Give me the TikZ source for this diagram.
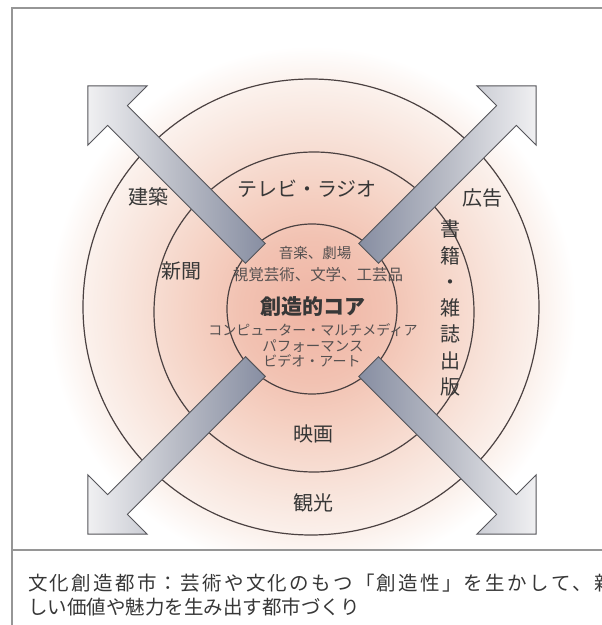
\documentclass[tikz,border=0pt]{standalone}
\usepackage{fontspec}
\newfontfamily\jp{Noto Sans CJK JP}
\usetikzlibrary{calc}
\definecolor{g0}{RGB}{239,180,163}
\definecolor{g1}{RGB}{242,194,178}
\definecolor{g2}{RGB}{245,209,195}
\definecolor{g3}{RGB}{248,227,218}
\definecolor{g4}{RGB}{251,241,236}
\definecolor{ringline}{RGB}{75,65,65}
\definecolor{labelgray}{RGB}{55,55,55}
\definecolor{innergray}{RGB}{85,80,80}
\definecolor{framegray}{RGB}{150,150,150}
\definecolor{arrowdark}{RGB}{135,142,162}
\definecolor{arrowmid}{RGB}{185,188,198}
\definecolor{arrowlight}{RGB}{240,240,242}
\definecolor{arrowedge}{RGB}{85,85,90}
\pgfdeclareradialshading{glow}{\pgfpoint{0bp}{0bp}}{%
  color(0bp)=(g0); color(6bp)=(g1); color(10bp)=(g2); color(15bp)=(g3);
  color(19bp)=(g4); color(22bp)=(white); color(50bp)=(white)}
\newcommand\flowarrow[2]{%
  \pgfmathsetmacro\angL{#1+90}%
  \pgfmathsetmacro\angR{#1-90}%
  \draw[arrowbody,#2]
    ($(C)+(#1:80)+(\angL:14)$) -- ($(C)+(#1:275)+(\angL:14)$) --
    ($(C)+(#1:275)+(\angL:42)$) -- ($(C)+(#1:317)$) --
    ($(C)+(#1:275)+(\angR:42)$) -- ($(C)+(#1:275)+(\angR:14)$) --
    ($(C)+(#1:80)+(\angR:14)$) -- cycle;}
\begin{document}
\begin{tikzpicture}[x=1pt,y=1pt,
  ring/.style={draw=ringline,line width=1.2pt},
  outerlbl/.style={font=\jp\fontsize{20}{20}\selectfont,text=labelgray,inner sep=0pt},
  innerlbl/.style={font=\jp\fontsize{14.5}{14.5}\selectfont,text=innergray,inner sep=0pt},
  corelbl/.style={font=\jp\bfseries\fontsize{21}{21}\selectfont,text=labelgray,inner sep=0pt},
  notelbl/.style={font=\jp\fontsize{19.5}{19.5}\selectfont,text=labelgray,inner sep=0pt,anchor=west},
  arrowbody/.style={draw=arrowedge,line width=0.9pt,line join=miter},
  framerule/.style={draw=framegray,line width=2pt}]
\useasboundingbox (0,0) rectangle (602,625);
\coordinate (C) at (312,315);
% background glow
\begin{scope}
  \clip (12,75) rectangle (602,617);
  \fill[shading=glow] ($(C)+(-300,-300)$) rectangle ($(C)+(300,300)$);
\end{scope}
% rings
\draw[ring] (311,318) circle (228);
\draw[ring] (314,313) circle (160);
\draw[ring] (312,316) circle (85);
% outer labels
\node[outerlbl] (tv) at (307,436) {テレビ・ラジオ};
\node[outerlbl] (arch) at (148,428) {建築};
\node[outerlbl] (ad) at (482,427) {広告};
\node[outerlbl] (news) at (181,354) {新聞};
\node[outerlbl] (film) at (313,191) {映画};
\node[outerlbl] (tour) at (313,122) {観光};
\node[outerlbl,align=center,font=\jp\fontsize{20}{26.3}\selectfont] (books) at (450,317)
  {書\\籍\\・\\雑\\誌\\出\\版};
% core labels
\node[innerlbl] (music) at (315,372) {音楽、劇場};
\node[innerlbl,font=\jp\fontsize{15.5}{15.5}\selectfont] (arts) at (318,350) {視覚芸術、文学、工芸品};
\node[corelbl] (core) at (313,318) {創造的コア};
\node[innerlbl,font=\jp\fontsize{14}{14}\selectfont] (multi) at (313,295) {コンピューター・マルチメディア};
\node[innerlbl] (perf) at (313,279) {パフォーマンス};
\node[innerlbl,font=\jp\fontsize{14}{14}\selectfont] (video) at (312,264) {ビデオ・アート};
% arrows
\flowarrow{135}{left color=arrowlight,right color=arrowdark,middle color=arrowmid}
\flowarrow{45}{left color=arrowdark,right color=arrowlight,middle color=arrowmid}
\flowarrow{225}{left color=arrowlight,right color=arrowdark,middle color=arrowmid}
\flowarrow{315}{left color=arrowdark,right color=arrowlight,middle color=arrowmid}
% frame
\draw[framerule] (12,-5) -- (12,617) -- (610,617);
\draw[framerule] (12,75) -- (610,75);
% note text
\node[notelbl] (note1) at (28,42) {\makebox[586pt][s]{文\hfil 化\hfil 創\hfil 造\hfil 都\hfil 市\hfil ：\hfil 芸\hfil 術\hfil や\hfil 文\hfil 化\hfil の\hfil も\hfil つ\hfil 「\hfil 創\hfil 造\hfil 性\hfil 」\hfil を\hfil 生\hfil か\hfil し\hfil て\hfil 、\hfil 新}};
\node[notelbl] (note2) at (28,18) {しい価値や魅力を生み出す都市づくり};
\end{tikzpicture}
\end{document}
